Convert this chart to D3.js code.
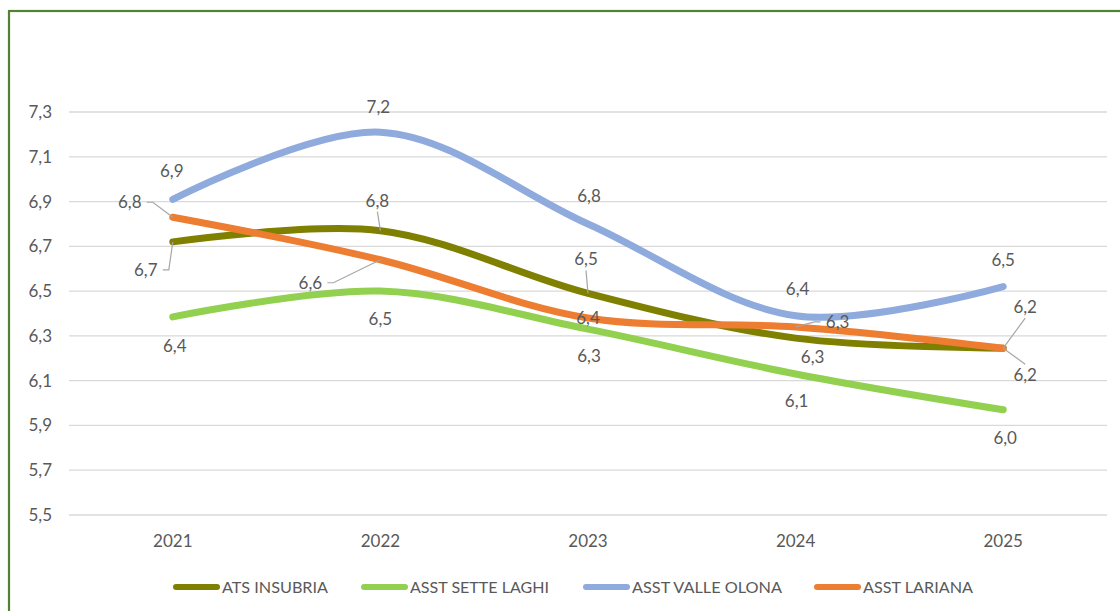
<!DOCTYPE html>
<html><head><meta charset="utf-8">
<script src="https://cdn.jsdelivr.net/npm/d3@7"></script>
<style>html,body{margin:0;padding:0;background:#fff;}svg{display:block;}</style>
</head><body>
<svg id="c" width="1120" height="611"></svg>
<script>
const years = ["2021","2022","2023","2024","2025"];
const seriesNames = ["ATS INSUBRIA","ASST SETTE LAGHI","ASST VALLE OLONA","ASST LARIANA"];
const atsInsubria   = [6.72, 6.77, 6.49, 6.29, 6.245];
const asstSetteLaghi = [6.385, 6.50, 6.33, 6.13, 5.97];
const asstValleOlona = [6.91, 7.21, 6.80, 6.39, 6.52];
const asstLariana   = [6.83, 6.64, 6.38, 6.34, 6.245];
const yTicks = [5.5, 5.7, 5.9, 6.1, 6.3, 6.5, 6.7, 6.9, 7.1, 7.3];

const colors = ["#7f7f00", "#92d050", "#8faadc", "#ed7d31"];
// label offsets (dx, dy) relative to the point, and whether a leader line is drawn
const labelLayout = [
  [[-27,28,1],[-3,-30,1],[-2,-34,1],[17,19,0],[22,27,1]],
  [[2,29,0],[0,28,0],[1,27,0],[1,27,0],[2,28,0]],
  [[-1,-28,0],[-2,-25,0],[1,-28,0],[2,-27,0],[0,-27,0]],
  [[-43,-15,1],[-70,23,1],[0,0,0],[42,-5,1],[22,-41,1]]
];
const data = [atsInsubria, asstSetteLaghi, asstValleOlona, asstLariana];

const svg = d3.select("#c");
const fontFam = "Lato, 'Open Sans', sans-serif";
const textCol = "#595959";

// border
svg.append("rect").attr("x",9).attr("y",11).attr("width",1200).attr("height",700)
  .attr("fill","none").attr("stroke","#548235").attr("stroke-width",2.2);

const x = d3.scaleBand().domain(years).range([69,1107]);
const y = d3.scaleLinear().domain([5.5,7.3]).range([515,112]);
const fmt = v => d3.format(".1f")(v).replace(".", ",");

// gridlines
svg.append("g").selectAll("line").data(yTicks).join("line")
  .attr("x1",69).attr("x2",1107)
  .attr("y1",d=>y(d)).attr("y2",d=>y(d))
  .attr("stroke","#d9d9d9").attr("stroke-width",1.3);

// y axis labels
const yAxis = d3.axisLeft(y).tickValues(yTicks).tickFormat(fmt).tickSize(0).tickPadding(0);
const yg = svg.append("g").attr("transform","translate(52,0)").call(yAxis);
yg.select(".domain").remove();
yg.selectAll("text").attr("fill",textCol).attr("font-size",17).attr("font-family",fontFam);

// x axis labels
const xAxis = d3.axisBottom(x).tickSize(0).tickPadding(0);
const xg = svg.append("g").attr("transform","translate(0,532)").call(xAxis);
xg.select(".domain").remove();
xg.selectAll("text").attr("fill",textCol).attr("font-size",17).attr("font-family",fontFam).attr("dy","0.35em").attr("y",9);

const cx = yr => x(yr) + x.bandwidth()/2;
const line = d3.line().x((d,i)=>cx(years[i])).y(d=>y(d)).curve(d3.curveCatmullRom.alpha(0.5));

// lines
data.forEach((s,k)=>{
  svg.append("path").datum(s).attr("d",line)
    .attr("fill","none").attr("stroke",colors[k]).attr("stroke-width",7)
    .attr("stroke-linecap","round").attr("stroke-linejoin","round");
});

// labels
const lg = svg.append("g");
data.forEach((s,k)=>{
  s.forEach((v,i)=>{
    const px = cx(years[i]), py = y(v);
    const [dx,dy,lead] = labelLayout[k][i];
    const tx = px+dx, ty = py+dy;
    if(lead){
      let pts;
      if (Math.abs(dx) > 25) {
        const sx = tx + (dx<0 ? 17 : -17);
        pts = [[sx, ty],[sx + (dx<0?6:-6), ty],[px,py]];
      } else {
        const sy = ty + (dy<0 ? 11 : -11);
        pts = [[tx, sy],[px,py]];
      }
      lg.append("polyline").attr("points",pts.map(p=>p.join(",")).join(" "))
        .attr("fill","none").attr("stroke","#a6a6a6").attr("stroke-width",1.2);
    }
    lg.append("text").attr("x",tx).attr("y",ty).attr("dy","0.35em")
      .attr("text-anchor","middle").attr("fill",textCol)
      .attr("font-size",17).attr("font-family",fontFam).text(fmt(v));
  });
});

// legend
const legX = [173, 361, 583, 814];
const legW = [106, 139, 150, 110];
const leg = svg.append("g");
seriesNames.forEach((n,k)=>{
  leg.append("line").attr("x1",legX[k]+3).attr("x2",legX[k]+44).attr("y1",587).attr("y2",587)
    .attr("stroke",colors[k]).attr("stroke-width",6).attr("stroke-linecap","round");
  leg.append("text").attr("x",legX[k]+49).attr("y",587).attr("dy","0.35em")
    .attr("fill",textCol).attr("font-size",16).attr("font-family",fontFam)
    .attr("textLength",legW[k]).attr("lengthAdjust","spacingAndGlyphs").text(n);
});
</script>
</body></html>
